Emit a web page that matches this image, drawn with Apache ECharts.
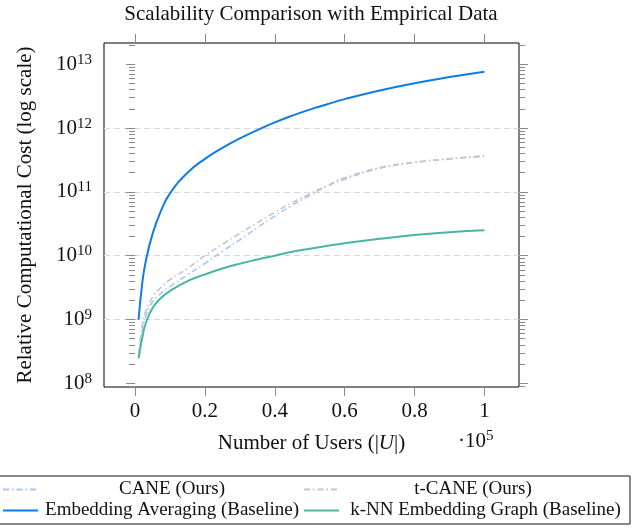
<!DOCTYPE html>
<html>
<head>
<meta charset="utf-8">
<script src="https://cdn.jsdelivr.net/npm/echarts@6/dist/echarts.min.js"></script>
<style>html,body{margin:0;padding:0;background:#fff}#c{width:632px;height:529px}</style>
</head>
<body>
<div id="c"></div>
<script>
// ---- data ----
const users = [1000, 2000, 3000, 5000, 7500, 10000, 15000, 20000, 25000, 30000, 35000, 40000, 45000, 50000, 55000, 60000, 70000, 80000, 90000, 100000];
const cane = [2.5e8, 6.6e8, 1.12e9, 1.9e9, 2.6e9, 3.3e9, 5.0e9, 7.6e9, 1.17e10, 1.78e10, 2.75e10, 4.2e10, 6.2e10, 8.8e10, 1.23e11, 1.58e11, 2.34e11, 2.9e11, 3.3e11, 3.6e11];
const tcane = [2.8e8, 7.9e8, 1.32e9, 2.24e9, 3.2e9, 4.2e9, 6.3e9, 1.0e10, 1.51e10, 2.24e10, 3.3e10, 4.8e10, 6.8e10, 9.3e10, 1.26e11, 1.66e11, 2.4e11, 2.9e11, 3.3e11, 3.7e11];
const embAvg = [1.0e9, 3.5e9, 7.9e9, 2.2e10, 5.2e10, 9.5e10, 2.0e11, 3.3e11, 4.9e11, 6.9e11, 9.33e11, 1.23e12, 1.57e12, 1.95e12, 2.37e12, 2.85e12, 3.89e12, 5.07e12, 6.31e12, 7.67e12];
const knnGraph = [2.45e8, 5.0e8, 8.5e8, 1.51e9, 2.19e9, 2.8e9, 4.0e9, 5.1e9, 6.3e9, 7.5e9, 8.7e9, 1.0e10, 1.15e10, 1.29e10, 1.43e10, 1.57e10, 1.84e10, 2.11e10, 2.34e10, 2.51e10];
const seriesNames = ['CANE (Ours)', 't-CANE (Ours)', 'Embedding Averaging (Baseline)', 'k-NN Embedding Graph (Baseline)'];
const xTicks = [0, 20000, 40000, 60000, 80000, 100000];
const xTickLabels = ['0', '0.2', '0.4', '0.6', '0.8', '1'];
const yTickExps = [8, 9, 10, 11, 12, 13];

// ---- chart ----
const FONT = 'Liberation Serif';
const X_MIN = -8900, X_MAX = 109900;
const Y_MIN = 8.75e7, Y_MAX = 2.16e13;
const majorY = yTickExps.map(e => Math.pow(10, e));
const minorY = [];
for (let e = 7; e <= 13; e++) for (let m = 2; m <= 9; m++) {
  const v = m * Math.pow(10, e);
  if (v > Y_MIN && v < Y_MAX) minorY.push(v);
}
const pairs = arr => users.map((u, i) => [u, arr[i]]);
const TICK = '#8a8a8a';

const chart = echarts.init(document.getElementById('c'), null, {renderer: 'canvas'});
const yBase = (pos) => ({type: 'log', min: Y_MIN, max: Y_MAX, position: pos, axisLine: {show: false}, splitLine: {show: false}, axisLabel: {show: false}});
const lineSeries = (name, data, color, width, type, z) => ({
  name, type: 'line', data: pairs(data), symbol: 'none', showSymbol: false, smooth: 0.5,
  lineStyle: {color, width, type}, itemStyle: {color}, z
});

chart.setOption({
  animation: false,
  backgroundColor: '#fff',
  grid: {left: 104, top: 43, width: 415, height: 344, show: true, borderColor: '#000', borderWidth: 1, backgroundColor: 'transparent'},
  xAxis: [{
    type: 'value', min: X_MIN, max: X_MAX, position: 'bottom',
    axisLine: {show: false}, splitLine: {show: false},
    axisTick: {show: true, customValues: xTicks, length: 9, lineStyle: {color: TICK}},
    axisLabel: {customValues: xTicks, formatter: v => xTickLabels[xTicks.indexOf(v)], margin: 14, fontFamily: FONT, fontSize: 21, color: '#111'},
    name: 'Number of Users (|{i|U}|)', nameLocation: 'middle', nameGap: 46,
    nameTextStyle: {fontFamily: FONT, fontSize: 21, color: '#111', rich: {i: {fontFamily: FONT, fontSize: 21, fontStyle: 'italic', color: '#111'}}}
  }, {
    type: 'value', min: X_MIN, max: X_MAX, position: 'top',
    axisLine: {show: false}, splitLine: {show: false}, axisLabel: {show: false},
    axisTick: {show: true, customValues: xTicks, length: 9, lineStyle: {color: TICK}}
  }],
  yAxis: [Object.assign(yBase('left'), {
    axisTick: {show: true, customValues: majorY, length: 9, lineStyle: {color: TICK}},
    axisLabel: {show: true, customValues: majorY, margin: 12,
      formatter: v => '{b|10}{s|' + Math.round(Math.log10(v)) + '}',
      rich: {b: {fontFamily: FONT, fontSize: 21, lineHeight: 24, color: '#111'}, s: {fontFamily: FONT, fontSize: 15, lineHeight: 15, verticalAlign: 'top', color: '#111'}}},
    splitLine: {show: true, showMinLine: false, showMaxLine: false, lineStyle: {type: [6, 4], color: '#d6d6d6', width: 1}},
    name: 'Relative Computational Cost (log scale)', nameLocation: 'middle', nameGap: 68,
    nameTextStyle: {fontFamily: FONT, fontSize: 21, color: '#111'}
  }), Object.assign(yBase('left'), {
    axisTick: {show: true, customValues: minorY, length: 6, lineStyle: {color: TICK}}
  }), Object.assign(yBase('right'), {
    axisTick: {show: true, customValues: majorY, length: 9, lineStyle: {color: TICK}}
  }), Object.assign(yBase('right'), {
    axisTick: {show: true, customValues: minorY, length: 6, lineStyle: {color: TICK}}
  })],
  legend: {
    left: -1, top: 476, width: 626, padding: [4, 3, 4, 3], itemGap: 2, itemWidth: 35, itemHeight: 14,
    borderColor: '#111', borderWidth: 1, borderRadius: 0,
    itemStyle: {opacity: 0},
    data: seriesNames,
    formatter: name => (name === seriesNames[3] ? '{w|' : '{n|') + name + '}',
    textStyle: {fontFamily: FONT, fontSize: 19, color: '#111',
      rich: {n: {width: 258, align: 'center', fontFamily: FONT, fontSize: 19, lineHeight: 21, color: '#111'},
             w: {width: 283, align: 'center', fontFamily: FONT, fontSize: 19, lineHeight: 21, color: '#111'}}}
  },
  graphic: [
    {type: 'text', x: 311, y: 14, style: {text: 'Scalability Comparison with Empirical Data', align: 'center', verticalAlign: 'middle', font: '21px "Liberation Serif"', fill: '#111'}},
    {type: 'text', x: 458, y: 441, style: {text: '{a|·10}{s|5}', verticalAlign: 'middle', fill: '#111',
      rich: {a: {fontFamily: FONT, fontSize: 21, lineHeight: 24, fill: '#111'}, s: {fontFamily: FONT, fontSize: 15, lineHeight: 15, verticalAlign: 'top', fill: '#111'}}}}
  ],
  series: [
    lineSeries(seriesNames[0], cane, '#a9c6f5', 1.6, [6, 3, 1.5, 3], 3),
    lineSeries(seriesNames[1], tcane, '#c6c6c6', 1.6, [6, 3, 1.5, 3], 4),
    lineSeries(seriesNames[2], embAvg, '#0f7be8', 2, 'solid', 5),
    lineSeries(seriesNames[3], knnGraph, '#4ab5a6', 2, 'solid', 5)
  ]
});
</script>
</body>
</html>
